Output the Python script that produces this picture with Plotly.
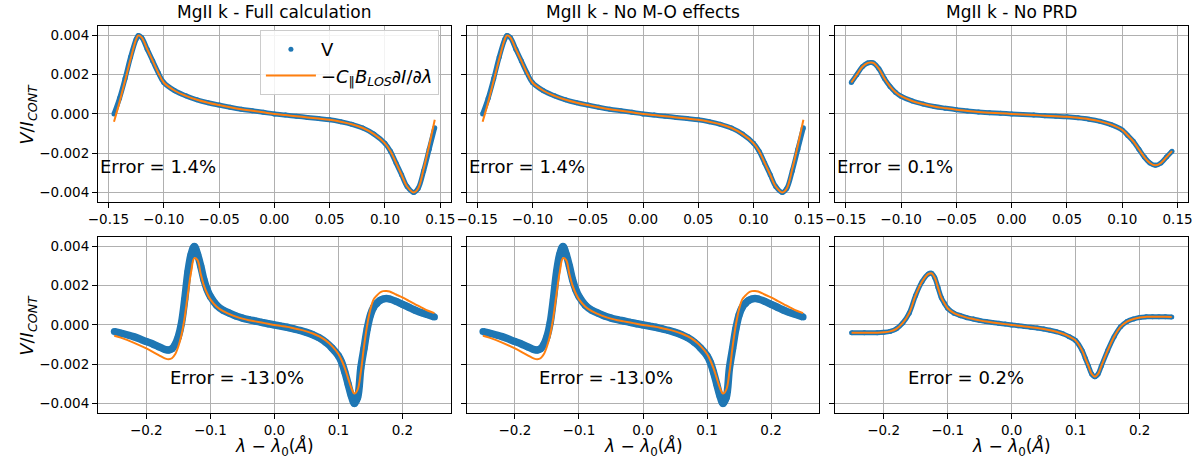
import plotly.graph_objects as go

# ---------------- data ----------------
x_top = [-0.145, -0.14, -0.135, -0.13, -0.125, -0.123, -0.12, -0.115, -0.11, -0.105,
         -0.10, -0.09, -0.08, -0.07, -0.06, -0.05, -0.04, -0.03, -0.02, -0.01,
         0.0, 0.01, 0.02, 0.03, 0.04, 0.05, 0.06, 0.07, 0.08, 0.09,
         0.10, 0.105, 0.11, 0.115, 0.12, 0.126, 0.13, 0.135, 0.14, 0.145]

v_full_top = [0.0000, 0.0008, 0.0018, 0.0029, 0.0038, 0.0040, 0.0039, 0.0033, 0.0027, 0.0021,
              0.0016, 0.00118, 0.00092, 0.00072, 0.00057, 0.00045, 0.00034, 0.00024, 0.00016, 0.00008,
              0.0, -0.00006, -0.00012, -0.00018, -0.00024, -0.0003, -0.0004, -0.00053, -0.00072, -0.00103,
              -0.0015, -0.0019, -0.0025, -0.0031, -0.0037, -0.0040, -0.0038, -0.0029, -0.0018, -0.0007]
fit_full_top = [-0.0004, 0.0006, 0.0017, 0.0028, 0.0038, 0.0040, 0.0039, 0.0033, 0.0027, 0.0021,
                0.0016, 0.00118, 0.00092, 0.00072, 0.00057, 0.00045, 0.00034, 0.00024, 0.00016, 0.00008,
                0.0, -0.00006, -0.00012, -0.00018, -0.00024, -0.0003, -0.0004, -0.00053, -0.00072, -0.00103,
                -0.0015, -0.0019, -0.0025, -0.0031, -0.0037, -0.0040, -0.0038, -0.0028, -0.0016, -0.0003]

v_nomo_top = [0.0000, 0.0008, 0.0018, 0.0029, 0.0038, 0.0040, 0.0039, 0.0033, 0.0027, 0.0021,
              0.0016, 0.00118, 0.00092, 0.00072, 0.00057, 0.00045, 0.00034, 0.00024, 0.00016, 0.00008,
              0.0, -0.00006, -0.00012, -0.00018, -0.00024, -0.0003, -0.0004, -0.00053, -0.00072, -0.00103,
              -0.0015, -0.0019, -0.0025, -0.0031, -0.0037, -0.0040, -0.0038, -0.0029, -0.0018, -0.0007]
fit_nomo_top = [-0.0004, 0.0006, 0.0017, 0.0028, 0.0038, 0.0040, 0.0039, 0.0033, 0.0027, 0.0021,
                0.0016, 0.00118, 0.00092, 0.00072, 0.00057, 0.00045, 0.00034, 0.00024, 0.00016, 0.00008,
                0.0, -0.00006, -0.00012, -0.00018, -0.00024, -0.0003, -0.0004, -0.00053, -0.00072, -0.00103,
                -0.0015, -0.0019, -0.0025, -0.0031, -0.0037, -0.0040, -0.0038, -0.0028, -0.0016, -0.0003]

x_noprd_top = [-0.145, -0.14, -0.135, -0.13, -0.127, -0.125, -0.12, -0.115, -0.11, -0.105,
               -0.10, -0.09, -0.08, -0.07, -0.06, -0.05, -0.04, -0.03, -0.02, -0.01,
               0.0, 0.01, 0.02, 0.03, 0.04, 0.05, 0.06, 0.07, 0.08, 0.09,
               0.10, 0.105, 0.11, 0.115, 0.12, 0.125, 0.13, 0.135, 0.14, 0.145]
v_noprd_top = [0.0016, 0.0020, 0.0024, 0.0026, 0.00262, 0.0026, 0.0023, 0.0018, 0.0014, 0.0011,
               0.0009, 0.00066, 0.0005, 0.00038, 0.00029, 0.00021, 0.00015, 0.0001, 0.00006, 0.00003,
               0.0, -0.00003, -0.00006, -0.00009, -0.00012, -0.00015, -0.0002, -0.00027, -0.00038, -0.00055,
               -0.00082, -0.0011, -0.0014, -0.0018, -0.0022, -0.0025, -0.00262, -0.0025, -0.0022, -0.0019]
fit_noprd_top = [0.0016, 0.0020, 0.0024, 0.0026, 0.00262, 0.0026, 0.0023, 0.0018, 0.0014, 0.0011,
                 0.0009, 0.00066, 0.0005, 0.00038, 0.00029, 0.00021, 0.00015, 0.0001, 0.00006, 0.00003,
                 0.0, -0.00003, -0.00006, -0.00009, -0.00012, -0.00015, -0.0002, -0.00027, -0.00038, -0.00055,
                 -0.00082, -0.0011, -0.0014, -0.0018, -0.0022, -0.0025, -0.00262, -0.0025, -0.0022, -0.0019]

x_bot = [-0.25, -0.24, -0.22, -0.20, -0.19, -0.18, -0.17, -0.165, -0.16, -0.155,
         -0.15, -0.145, -0.14, -0.135, -0.13, -0.125, -0.12, -0.115, -0.11, -0.105,
         -0.10, -0.09, -0.08, -0.07, -0.06, -0.05, -0.04, -0.03, -0.02, -0.01,
         0.0, 0.01, 0.02, 0.03, 0.04, 0.05, 0.06, 0.07, 0.08, 0.09,
         0.10, 0.105, 0.11, 0.115, 0.12, 0.125, 0.13, 0.135, 0.14, 0.145,
         0.15, 0.155, 0.16, 0.165, 0.17, 0.175, 0.18, 0.19, 0.20, 0.21,
         0.22, 0.23, 0.24, 0.25]

v_full_bot = [-0.00034, -0.00042, -0.0006, -0.00085, -0.00097, -0.00112, -0.00126, -0.00128, -0.00122, -0.001,
              -0.0006, 0.0001, 0.0013, 0.0027, 0.0036, 0.0040, 0.0036, 0.0030, 0.0023, 0.0018,
              0.00145, 0.001, 0.00075, 0.0006, 0.00045, 0.00035, 0.00027, 0.0002, 0.00013, 0.00006,
              0.0, -0.00006, -0.00012, -0.0002, -0.00028, -0.00038, -0.0005, -0.00066, -0.00088, -0.00118,
              -0.00157, -0.0019, -0.0024, -0.0030, -0.0036, -0.0040, -0.0037, -0.0022, -0.0012, -0.0002,
              0.0005, 0.0009, 0.0011, 0.00125, 0.00132, 0.00135, 0.00132, 0.0012, 0.00105, 0.0009,
              0.00075, 0.00062, 0.00052, 0.0004]
fit_full_bot = [-0.00055, -0.00065, -0.0009, -0.0012, -0.00137, -0.00155, -0.00172, -0.00175, -0.0017, -0.0015,
                -0.0011, -0.0005, 0.0004, 0.0016, 0.0027, 0.0034, 0.0033, 0.0026, 0.0020, 0.0016,
                0.0013, 0.00093, 0.0007, 0.00055, 0.00042, 0.00032, 0.00024, 0.00018, 0.00012, 0.00006,
                0.0, -0.00005, -0.0001, -0.00017, -0.00024, -0.00033, -0.00044, -0.00059, -0.00079, -0.00108,
                -0.00148, -0.0018, -0.0022, -0.0027, -0.0032, -0.0035, -0.0033, -0.0024, -0.0011, 0.0,
                0.0008, 0.0013, 0.0015, 0.00165, 0.00172, 0.00173, 0.0017, 0.00155, 0.0014, 0.00122,
                0.00105, 0.00088, 0.00072, 0.0006]

v_nomo_bot = [-0.00034, -0.00042, -0.0006, -0.00085, -0.00097, -0.00112, -0.00126, -0.00128, -0.00122, -0.001,
              -0.0006, 0.0001, 0.0013, 0.0027, 0.0036, 0.0040, 0.0036, 0.0030, 0.0023, 0.0018,
              0.00145, 0.001, 0.00075, 0.0006, 0.00045, 0.00035, 0.00027, 0.0002, 0.00013, 0.00006,
              0.0, -0.00006, -0.00012, -0.0002, -0.00028, -0.00038, -0.0005, -0.00066, -0.00088, -0.00118,
              -0.00157, -0.0019, -0.0024, -0.0030, -0.0036, -0.0040, -0.0037, -0.0022, -0.0012, -0.0002,
              0.0005, 0.0009, 0.0011, 0.00125, 0.00132, 0.00135, 0.00132, 0.0012, 0.00105, 0.0009,
              0.00075, 0.00062, 0.00052, 0.0004]
fit_nomo_bot = [-0.00055, -0.00065, -0.0009, -0.0012, -0.00137, -0.00155, -0.00172, -0.00175, -0.0017, -0.0015,
                -0.0011, -0.0005, 0.0004, 0.0016, 0.0027, 0.0034, 0.0033, 0.0026, 0.0020, 0.0016,
                0.0013, 0.00093, 0.0007, 0.00055, 0.00042, 0.00032, 0.00024, 0.00018, 0.00012, 0.00006,
                0.0, -0.00005, -0.0001, -0.00017, -0.00024, -0.00033, -0.00044, -0.00059, -0.00079, -0.00108,
                -0.00148, -0.0018, -0.0022, -0.0027, -0.0032, -0.0035, -0.0033, -0.0024, -0.0011, 0.0,
                0.0008, 0.0013, 0.0015, 0.00165, 0.00172, 0.00173, 0.0017, 0.00155, 0.0014, 0.00122,
                0.00105, 0.00088, 0.00072, 0.0006]

x_noprd_bot = [-0.25, -0.23, -0.21, -0.20, -0.19, -0.18, -0.17, -0.16, -0.15, -0.14,
               -0.13, -0.125, -0.12, -0.115, -0.11, -0.105, -0.10, -0.09, -0.08, -0.07,
               -0.06, -0.05, -0.04, -0.03, -0.02, -0.01, 0.0, 0.01, 0.02, 0.03,
               0.04, 0.05, 0.06, 0.07, 0.08, 0.09, 0.10, 0.11, 0.115, 0.12,
               0.125, 0.13, 0.135, 0.14, 0.15, 0.16, 0.17, 0.18, 0.19, 0.20,
               0.21, 0.22, 0.23, 0.24, 0.25]
v_noprd_bot = [-0.0004, -0.0004, -0.0004, -0.00038, -0.00033, -0.0002, 0.0001, 0.0006, 0.0015, 0.0022,
               0.0026, 0.00263, 0.0024, 0.0019, 0.0014, 0.0011, 0.00085, 0.0006, 0.00047, 0.00037,
               0.0003, 0.00023, 0.00017, 0.00012, 0.00008, 0.00004, 0.0, -0.00004, -0.00008, -0.00012,
               -0.00016, -0.00021, -0.00027, -0.00035, -0.00045, -0.0006, -0.0008, -0.0013, -0.0017, -0.0021,
               -0.0025, -0.00264, -0.0025, -0.0021, -0.0013, -0.0006, -0.0001, 0.00017, 0.0003, 0.00038,
               0.00041, 0.00042, 0.00042, 0.00041, 0.0004]
fit_noprd_bot = [-0.0004, -0.0004, -0.0004, -0.00038, -0.00033, -0.0002, 0.0001, 0.0006, 0.0015, 0.0022,
                 0.0026, 0.00263, 0.0024, 0.0019, 0.0014, 0.0011, 0.00085, 0.0006, 0.00047, 0.00037,
                 0.0003, 0.00023, 0.00017, 0.00012, 0.00008, 0.00004, 0.0, -0.00004, -0.00008, -0.00012,
                 -0.00016, -0.00021, -0.00027, -0.00035, -0.00045, -0.0006, -0.0008, -0.0013, -0.0017, -0.0021,
                 -0.0025, -0.00264, -0.0025, -0.0021, -0.0013, -0.0006, -0.0001, 0.00017, 0.0003, 0.00038,
                 0.00041, 0.00042, 0.00042, 0.00041, 0.0004]

titles = ["MgII k - Full calculation", "MgII k - No M-O effects", "MgII k - No PRD"]
errors_top = ["Error = 1.4%", "Error = 1.4%", "Error = 0.1%"]
errors_bot = ["Error = -13.0%", "Error = -13.0%", "Error = 0.2%"]
top_xticks = [-0.15, -0.10, -0.05, 0.0, 0.05, 0.10, 0.15]
bot_xticks = [-0.2, -0.1, 0.0, 0.1, 0.2]
yticks = [-0.004, -0.002, 0.0, 0.002, 0.004]

# ---------------- figure ----------------
W, H = 1197, 464
BLUE, ORANGE = "#1f77b4", "#ff7f0e"
FONT = "DejaVu Sans"

panels = [
    (x_top, v_full_top, x_top, fit_full_top, 0, 0),
    (x_top, v_nomo_top, x_top, fit_nomo_top, 0, 1),
    (x_noprd_top, v_noprd_top, x_noprd_top, fit_noprd_top, 0, 2),
    (x_bot, v_full_bot, x_bot, fit_full_bot, 1, 0),
    (x_bot, v_nomo_bot, x_bot, fit_nomo_bot, 1, 1),
    (x_noprd_bot, v_noprd_bot, x_noprd_bot, fit_noprd_bot, 1, 2),
]

col_px = [(89, 446), (462, 819), (835, 1192)]
row_px = [(26, 202), (237, 413)]

fig = go.Figure()
layout = dict(width=W, height=H, autosize=False,
              margin=dict(l=0, r=0, t=0, b=0),
              paper_bgcolor="white", plot_bgcolor="white",
              font=dict(family=FONT, color="black"),
              showlegend=True)

annotations = []
for i, (xv, yv, xf, yf, r, c) in enumerate(panels):
    n = i + 1
    xa = "x" if n == 1 else f"x{n}"
    ya = "y" if n == 1 else f"y{n}"
    thick = (r == 1 and c < 2)
    band_w = 7.5 if thick else 5
    fig.add_trace(go.Scatter(x=xv, y=yv, mode="lines", xaxis=xa, yaxis=ya,
                             line=dict(color=BLUE, width=band_w, shape="spline", smoothing=1.0),
                             showlegend=False, hoverinfo="skip"))
    fig.add_trace(go.Scatter(x=xv, y=yv, mode="markers", xaxis=xa, yaxis=ya,
                             marker=dict(color=BLUE, size=7 if thick else 5), name="V",
                             showlegend=(n == 1)))
    fig.add_trace(go.Scatter(x=xf, y=yf, mode="lines", xaxis=xa, yaxis=ya,
                             line=dict(color=ORANGE, width=2, shape="spline", smoothing=1.0),
                             name="−<i>C</i><sub>‖</sub><i>B</i><sub><i>LOS</i></sub>∂<i>I</i>/∂<i>λ</i>",
                             showlegend=(n == 1)))

    x0, x1 = col_px[c]
    y0, y1 = row_px[r]
    axcommon = dict(showline=True, linecolor="black", linewidth=1, mirror=True,
                    ticks="outside", ticklen=5, tickwidth=1, tickcolor="black",
                    showgrid=True, gridcolor="#b0b0b0", gridwidth=1, zeroline=False,
                    tickfont=dict(family=FONT, size=13.5, color="black"))
    if r == 0:
        xr = [-0.1595, 0.1595]
        xt = dict(tickmode="array", tickvals=top_xticks, tickformat=".2f")
        ex = -0.1595
    else:
        xr = [-0.2755, 0.2755]
        xt = dict(tickmode="array", tickvals=bot_xticks, tickformat=".1f")
        ex = -0.1655
    layout["xaxis" if n == 1 else f"xaxis{n}"] = dict(
        domain=[x0 / W, x1 / W], anchor=ya, range=xr, **xt, **axcommon)
    layout["yaxis" if n == 1 else f"yaxis{n}"] = dict(
        domain=[1 - y1 / H, 1 - y0 / H], anchor=xa, range=[-0.00449, 0.00448],
        tickmode="array", tickvals=yticks, tickformat=".3f",
        showticklabels=(c == 0), **axcommon)

    # error text
    etxt = errors_top[c] if r == 0 else errors_bot[c]
    annotations.append(dict(x=ex, y=-0.0027, xref=xa, yref=ya, text=etxt,
                            showarrow=False, xanchor="left", yanchor="middle",
                            font=dict(family=FONT, size=18, color="black")))
    if r == 0:
        annotations.append(dict(x=(x0 + x1) / 2 / W, y=1 - 12 / H, xref="paper", yref="paper",
                                text=titles[c], showarrow=False, xanchor="center", yanchor="middle",
                                font=dict(family=FONT, size=17, color="black")))
    else:
        annotations.append(dict(x=(x0 + x1) / 2 / W, y=1 - 447 / H, xref="paper", yref="paper",
                                text="<i>λ</i> − <i>λ</i><sub>0</sub>(<i>Å</i>)",
                                showarrow=False, xanchor="center", yanchor="middle",
                                font=dict(family=FONT, size=17, color="black")))
    if c == 0:
        annotations.append(dict(x=18 / W, y=1 - ((y0 + y1) / 2) / H, xref="paper", yref="paper",
                                text="<i>V</i>/<i>I</i><sub><i>CONT</i></sub>", textangle=-90,
                                showarrow=False, xanchor="center", yanchor="middle",
                                font=dict(family=FONT, size=18, color="black")))

layout["annotations"] = annotations
layout["legend"] = dict(x=434 / W, y=1 - 30 / H, xanchor="right", yanchor="top",
                        bgcolor="rgba(255,255,255,0.85)", bordercolor="#cccccc", borderwidth=1,
                        itemwidth=50, tracegroupgap=4,
                        font=dict(family=FONT, size=18, color="black"))
fig.update_layout(**layout)
fig.write_html("out.html")
